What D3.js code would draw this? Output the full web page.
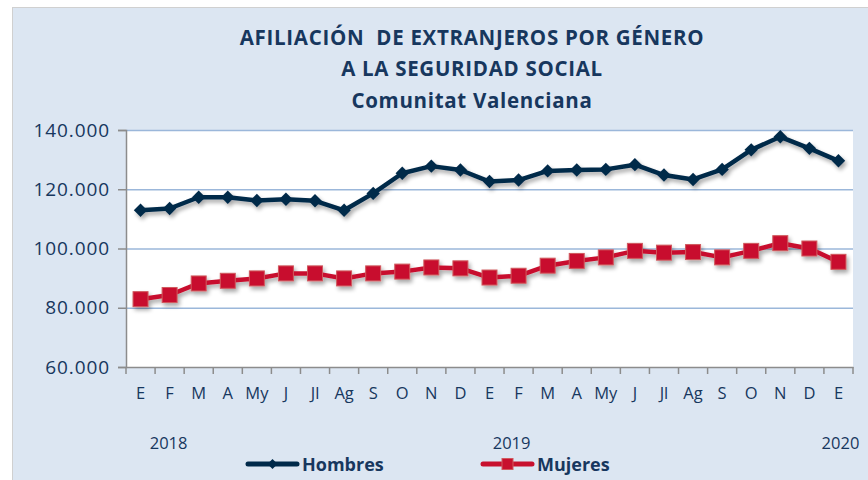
<!DOCTYPE html>
<html><head><meta charset="utf-8">
<script src="https://cdn.jsdelivr.net/npm/d3@7"></script>
<style>
html,body{margin:0;padding:0;background:#fff;}
svg{display:block;}
</style></head>
<body>
<svg id="chart" width="868" height="480"></svg>
<script>
const titleLines = ["AFILIACIÓN  DE EXTRANJEROS POR GÉNERO", "A LA SEGURIDAD SOCIAL", "Comunitat Valenciana"];
const months = ["E","F","M","A","My","J","Jl","Ag","S","O","N","D","E","F","M","A","My","J","Jl","Ag","S","O","N","D","E"];
const yearLabels = [{label:"2018", idx:1, dx:-1}, {label:"2019", idx:13, dx:-7}, {label:"2020", idx:24, dx:2}];
const hombres = [112900,113500,117300,117300,116200,116600,116100,112900,118600,125400,127800,126500,122600,123100,126200,126500,126700,128300,124800,123300,126700,133300,137700,133800,129600];
const mujeres = [82900,84300,88200,89100,89900,91600,91600,89900,91600,92200,93600,93300,90200,90800,94200,95800,97000,99200,98600,98800,97000,99200,101800,100000,95500];
const yTicks = [60000,80000,100000,120000,140000];
const seriesNames = ["Hombres","Mujeres"];

const svg = d3.select("#chart");
const font = "'Open Sans', Lato, sans-serif";
const txt = "#17375E";

// panel
svg.append("rect").attr("x",12.5).attr("y",7.5).attr("width",860).attr("height",480)
  .attr("fill","#DCE6F2").attr("stroke","#D0D0D0");

const m = {left:126, right:853, top:130, bottom:367};
const x = d3.scaleBand().domain(d3.range(months.length)).range([m.left, m.right]);
const y = d3.scaleLinear().domain([60000,140000]).range([m.bottom, m.top]);

svg.append("rect").attr("x",m.left).attr("y",m.top).attr("width",m.right-m.left).attr("height",m.bottom-m.top).attr("fill","#fff");

// grid
svg.append("g").selectAll("line").data(yTicks.filter(d=>d>60000)).join("line")
  .attr("x1",m.left).attr("x2",m.right).attr("y1",d=>y(d)+0.5).attr("y2",d=>y(d)+0.5)
  .attr("stroke","#9BB7DA").attr("stroke-width",1.3);

// y axis
const fmt = d => d3.format(",.0f")(d).replace(/,/g,".");
const ya = svg.append("g").attr("transform",`translate(${m.left},0)`)
  .call(d3.axisLeft(y).tickValues(yTicks).tickFormat(fmt).tickSize(8).tickPadding(8));
ya.select(".domain").attr("stroke","#8C8C8C").attr("stroke-width",1.5);
ya.selectAll(".tick line").attr("stroke","#8C8C8C").attr("stroke-width",1.5);
ya.selectAll(".tick text").attr("font-family",font).attr("font-size",19).attr("letter-spacing",0.9).attr("fill",txt);

// x axis
const xa = svg.append("g").attr("transform",`translate(0,${m.bottom})`)
  .call(d3.axisBottom(x).tickFormat(i=>months[i]).tickSize(0).tickPadding(20));
xa.select(".domain").attr("stroke","#8C8C8C").attr("stroke-width",1.5);
xa.selectAll(".tick text").attr("font-family",font).attr("font-size",16.5).attr("fill",txt);
svg.append("g").selectAll("line").data(d3.range(months.length+1)).join("line")
  .attr("x1",i=>m.left + i*x.step()).attr("x2",i=>m.left + i*x.step())
  .attr("y1",m.bottom).attr("y2",m.bottom+7).attr("stroke","#8C8C8C").attr("stroke-width",1.5);

// year labels
svg.append("g").selectAll("text").data(yearLabels).join("text")
  .attr("x",d=>x(d.idx)+x.bandwidth()/2 + d.dx).attr("y",449)
  .attr("text-anchor","middle").attr("font-family",font).attr("font-size",16.5).attr("fill",txt)
  .text(d=>d.label);

// title
svg.append("g").selectAll("text").data(titleLines).join("text")
  .attr("x",472).attr("y",(d,i)=>[45,76,108][i]).attr("text-anchor","middle")
  .attr("font-family",font).attr("font-weight","bold").attr("font-size",20.5).attr("letter-spacing",0.7).attr("fill",txt)
  .style("white-space","pre")
  .text(d=>d);

// shadow filter
const defs = svg.append("defs");
const f = defs.append("filter").attr("id","sh").attr("x","-10%").attr("y","-10%").attr("width","120%").attr("height","140%");
f.append("feGaussianBlur").attr("in","SourceAlpha").attr("stdDeviation",2);
f.append("feOffset").attr("dx",2).attr("dy",3).attr("result","b");
f.append("feComponentTransfer").append("feFuncA").attr("type","linear").attr("slope",0.35);
const mg = f.append("feMerge"); mg.append("feMergeNode"); mg.append("feMergeNode").attr("in","SourceGraphic");

const cx = i => x(i) + x.bandwidth()/2;
const line = d3.line().x((d,i)=>cx(i)).y(d=>y(d));

const gH = svg.append("g").attr("filter","url(#sh)");
gH.append("path").datum(hombres).attr("d",line).attr("fill","none").attr("stroke","#002A4A").attr("stroke-width",4.5).attr("stroke-linejoin","round");
gH.selectAll("path.mk").data(hombres).join("path").attr("class","mk")
  .attr("d",d3.symbol(d3.symbolSquare, 90))
  .attr("transform",(d,i)=>`translate(${cx(i)},${y(d)}) rotate(45)`).attr("fill","#002A4A");

const gM = svg.append("g").attr("filter","url(#sh)");
gM.append("path").datum(mujeres).attr("d",line).attr("fill","none").attr("stroke","#C8102E").attr("stroke-width",4.5).attr("stroke-linejoin","round");
gM.selectAll("rect").data(mujeres).join("rect")
  .attr("x",(d,i)=>cx(i)-7.5).attr("y",d=>y(d)-7.5).attr("width",15).attr("height",15)
  .attr("fill","#C8102E").attr("stroke","#D0595E").attr("stroke-width",1);

// legend
const leg = [{name:seriesNames[0], x0:248, color:"#002A4A", shape:"diamond"},{name:seriesNames[1], x0:483, color:"#C8102E", shape:"square"}];
const lg = svg.append("g").selectAll("g").data(leg).join("g").attr("transform",d=>`translate(${d.x0},464)`);
lg.append("line").attr("x1",0).attr("x2",49).attr("y1",0).attr("y2",0).attr("stroke",d=>d.color).attr("stroke-width",5).attr("stroke-linecap","round");
lg.filter(d=>d.shape==="diamond").append("path").attr("d",d3.symbol(d3.symbolSquare,50)).attr("transform","translate(24.5,0) rotate(45)").attr("fill",d=>d.color);
lg.filter(d=>d.shape==="square").append("rect").attr("x",19).attr("y",-5.5).attr("width",11).attr("height",11).attr("fill",d=>d.color).attr("stroke","#D0595E");
lg.append("text").attr("x",54).attr("y",7).attr("font-family",font).attr("font-weight","bold").attr("font-size",18).attr("fill",txt).text(d=>d.name);
</script>
</body></html>
